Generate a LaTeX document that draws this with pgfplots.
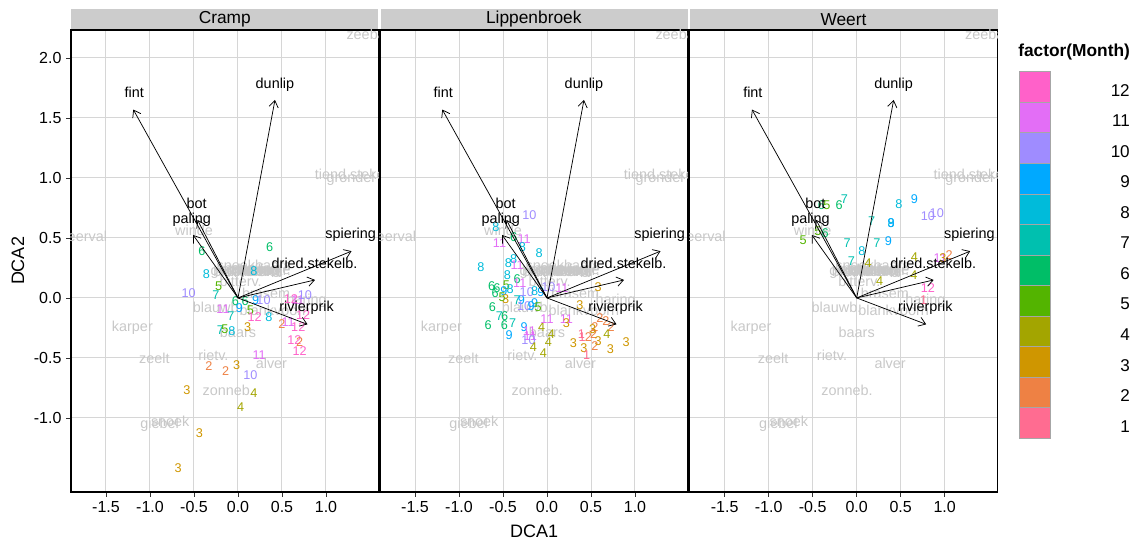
\documentclass[border=0pt]{standalone}
\usepackage{pgfplots}
\pgfplotsset{compat=1.18}
\usepackage{pgfplotstable}
\usepackage{fontspec}
\setmainfont{Liberation Sans}
\usetikzlibrary{arrows.meta}

\definecolor{m1}{HTML}{FF6C91}
\definecolor{m2}{HTML}{EE8144}
\definecolor{m3}{HTML}{CF9600}
\definecolor{m4}{HTML}{A3A500}
\definecolor{m5}{HTML}{53B400}
\definecolor{m6}{HTML}{00BE67}
\definecolor{m7}{HTML}{00C0AF}
\definecolor{m8}{HTML}{00BBDA}
\definecolor{m9}{HTML}{00A9FF}
\definecolor{m10}{HTML}{9F8CFF}
\definecolor{m11}{HTML}{E36EF6}
\definecolor{m12}{HTML}{FF61C9}
\definecolor{spgray}{HTML}{C8C8C8}
\definecolor{gridgray}{HTML}{D6D6D6}
\definecolor{stripgray}{HTML}{CCCCCC}

\newcommand{\spfont}{\fontsize{10.8}{12}\selectfont}
\newcommand{\mfont}{\fontsize{9.5}{11}\selectfont}
\newcommand{\tickfont}{\fontsize{12}{14}\selectfont}

\pgfplotstableread{
x y m
-0.41 0.39 6
0.36 0.42 6
-0.36 0.20 8
-0.22 0.10 5
-0.25 0.025 7
-0.56 0.04 10
-0.03 -0.03 6
0.08 -0.03 6
0.20 -0.02 9
0.29 -0.02 10
-0.17 -0.09 11
0.015 -0.086 9
-0.08 -0.15 7
0.14 -0.105 5
0.19 -0.16 12
0.35 -0.16 8
0.11 -0.24 3
-0.20 -0.27 7
-0.15 -0.26 5
-0.07 -0.28 8
0.60 -0.01 12
0.68 -0.02 11
0.76 0.025 10
0.74 -0.14 12
0.50 -0.22 2
0.57 -0.20 11
0.685 -0.24 12
0.64 -0.35 12
0.70 -0.37 2
0.70 -0.44 12
0.24 -0.48 11
-0.33 -0.57 2
-0.14 -0.61 2
-0.015 -0.56 3
0.14 -0.64 10
-0.58 -0.77 3
0.18 -0.79 4
0.03 -0.91 4
-0.44 -1.13 3
-0.68 -1.42 3
0.18 0.22 8
}\cramp

\pgfplotstableread{
x y m
-0.20 0.69 10
-0.58 0.59 8
-0.54 0.46 11
-0.26 0.49 11
-0.38 0.51 6
-0.28 0.42 8
-0.09 0.37 8
-0.75 0.26 8
-0.44 0.29 8
-0.38 0.32 8
-0.34 0.27 11
-0.45 0.19 8
-0.34 0.16 6
-0.31 0.12 11
-0.46 0.11 5
-0.63 0.10 6
-0.57 0.08 6
-0.59 0.04 6
-0.49 0.06 9
-0.42 0.07 8
-0.51 0.01 5
-0.47 -0.01 3
-0.34 -0.02 7
-0.29 -0.02 9
-0.23 0.05 10
-0.14 0.06 8
-0.07 0.05 9
0.015 0.09 10
0.17 0.08 11
-0.14 -0.045 9
-0.26 -0.07 10
-0.18 -0.07 9
-0.10 -0.08 5
-0.62 -0.08 6
-0.54 -0.155 7
-0.48 -0.15 6
-0.67 -0.225 6
-0.485 -0.23 6
-0.39 -0.21 7
-0.43 -0.31 9
-0.26 -0.24 9
-0.20 -0.28 11
-0.19 -0.32 11
-0.21 -0.35 10
-0.155 -0.41 4
-0.06 -0.245 4
0.015 -0.37 4
0.05 -0.30 4
-0.04 -0.46 4
0.00 -0.18 11
0.22 -0.18 11
0.22 -0.21 3
0.58 0.086 3
0.375 -0.064 3
0.60 -0.17 2
0.67 -0.19 2
0.73 -0.245 2
0.545 -0.245 2
0.68 -0.30 4
0.53 -0.30 2
0.52 -0.26 3
0.39 -0.30 1
0.40 -0.33 1
0.47 -0.33 2
0.30 -0.38 3
0.42 -0.42 3
0.545 -0.405 2
0.58 -0.36 3
0.72 -0.43 3
0.90 -0.37 3
0.45 -0.475 1
}\lippen

\pgfplotstableread{
x y m
-0.40 0.77 6
-0.34 0.77 5
-0.20 0.775 6
-0.14 0.82 7
0.48 0.78 8
0.655 0.82 9
0.81 0.68 10
0.91 0.71 10
0.17 0.64 7
0.39 0.62 8
0.39 0.62 9
-0.61 0.48 5
-0.44 0.56 5
-0.36 0.54 6
-0.11 0.46 7
0.23 0.46 7
0.36 0.47 9
0.06 0.39 8
-0.06 0.31 7
0.13 0.29 4
0.26 0.14 4
0.655 0.34 4
0.65 0.19 4
0.81 0.086 12
0.76 -0.017 1
0.95 0.33 11
0.98 0.33 3
1.05 0.36 2
}\weert

\pgfplotstableread{
x y lab
1.57 2.20 zeebaars
1.357 1.03 tiend.stekelb.
1.28 0.99 grondel
-1.78 0.51 meerval
-0.50 0.56 winde
-1.20 -0.245 karper
-0.95 -0.50 zeelt
-0.28 -0.475 rietv.
0.38 -0.545 alver
-0.11 -0.77 zonneb.
-0.89 -1.06 giebel
-0.77 -1.03 snoek
0.0 -0.29 baars
-0.23 -0.075 blauwb.
0.42 -0.10 blankvoorn
0.32 0.04 brasem
0.78 -0.02 haring
0.03 0.14 bitterv.
0.18 0.27 snoekbaars
0.145 0.22 gr.modderkr.
0.115 0.225 blauwband
0.12 0.23 kopvoorn
0.15 0.225 serpeling
0.25 0.22 kolblei
0.05 0.225 pos
0.06 0.22 roofblei
0.30 0.225 bermpje
0.20 0.23 kwabaal
-0.02 0.222 sneep
}\species

\pgfplotstableread{
x y lab
-1.18 1.71 fint
0.42 1.78 dunlip
-0.47 0.79 bot
-0.525 0.65 paling
1.28 0.525 spiering
0.87 0.29 dried.stekelb.
0.78 -0.086 rivierprik
}\arrlabels

\pgfplotsset{
  panel/.style={
    scale only axis, width=231pt, height=346.5pt, anchor=south west,
    xmin=-1.9, xmax=1.6, ymin=-1.617, ymax=2.233,
    axis line style={black, line width=1.4pt},
    grid=major, major grid style={gridgray, line width=0.75pt},
    xtick={-1.5,-1,-0.5,0,0.5,1}, ytick={-1,-0.5,0,0.5,1,1.5,2},
    xtick pos=bottom, ytick pos=left,
    tick align=outside, major tick length=3.5pt,
    tick style={black!80, line width=0.6pt},
    ticklabel style={font=\tickfont},
    /pgf/number format/fixed, /pgf/number format/fixed zerofill,
    /pgf/number format/precision=1, /pgf/number format/assume math mode=true,
    clip marker paths=true,
  },
  arr/.style={black, line width=0.55pt, -{Straight Barb[length=5pt,width=7pt]}},
  txt/.style={only marks, mark=none, nodes near coords, point meta=explicit symbolic,
    nodes near coords style={anchor=center, inner sep=0pt, font=\spfont, text=#1}},
}

\newcommand{\speciesplot}{%
  \addplot[txt=spgray] table[x=x,y=y,meta=lab]{\species};
}
\newcommand{\monthplot}[1]{%
  \addplot[only marks, mark=none, point meta=explicit symbolic,
    nodes near coords={\textcolor{m\pgfplotspointmeta}{\pgfplotspointmeta}},
    nodes near coords style={anchor=center, inner sep=0pt, font=\mfont}]
    table[x=x,y=y,meta=m]{#1};
}
\newcommand{\arrowplots}{%
  \addplot[arr] coordinates {(0,0) (-1.19,1.57)};
  \addplot[arr] coordinates {(0,0) (0.42,1.65)};
  \addplot[arr] coordinates {(0,0) (-0.46,0.65)};
  \addplot[arr] coordinates {(0,0) (-0.51,0.525)};
  \addplot[arr] coordinates {(0,0) (1.29,0.39)};
  \addplot[arr] coordinates {(0,0) (0.875,0.15)};
  \addplot[arr] coordinates {(0,0) (0.79,-0.22)};
  \addplot[txt=black] table[x=x,y=y,meta=lab]{\arrlabels};
}

\begin{document}
\begin{tikzpicture}
\path[use as bounding box] (0,0) rectangle (855pt,405.75pt);

\begin{axis}[panel, at={(53.1pt,36.75pt)}]
\speciesplot
\monthplot{\cramp}
\arrowplots
\end{axis}

\begin{axis}[panel, at={(284.85pt,36.75pt)}, yticklabels={}, ytick style={draw=none}]
\speciesplot
\monthplot{\lippen}
\arrowplots
\end{axis}

\begin{axis}[panel, at={(517.125pt,36.75pt)}, yticklabels={}, ytick style={draw=none}]
\speciesplot
\monthplot{\weert}
\arrowplots
\end{axis}

\begin{scope}[x=0.75pt, y=-0.75pt, shift={(0pt,405.75pt)}]
  \fill[stripgray] (70.8,9) rectangle (378.3,29);
  \fill[stripgray] (380.5,9) rectangle (687.5,29);
  \fill[stripgray] (689.8,9) rectangle (997.5,29);
  \node[font=\fontsize{13}{15}\selectfont] at (224.8,19.5) {Cramp};
  \node[font=\fontsize{13}{15}\selectfont] at (533.8,19.5) {Lippenbroek};
  \node[font=\fontsize{13}{15}\selectfont] at (843.5,19.5) {Weert};
  \node[font=\fontsize{13.5}{15}\selectfont] at (534.2,531) {DCA1};
  \node[font=\fontsize{13.5}{15}\selectfont, rotate=90] at (18,261) {DCA2};
  \node[font=\bfseries\fontsize{13}{15}\selectfont, anchor=west, inner sep=0pt] at (1018,52) {factor(Month)};
  \foreach \i in {1,...,12} {
    \pgfmathsetmacro{\top}{71.7+(12-\i)*30.55}
    \filldraw[fill=m\i, draw=gray!70, line width=0.5pt] (1019,\top) rectangle (1050,\top+30.55);
    \node[font=\fontsize{12.8}{14}\selectfont, anchor=east, inner sep=0pt] at (1130,\top+18.5) {\i};
  }
\end{scope}
\end{tikzpicture}
\end{document}
